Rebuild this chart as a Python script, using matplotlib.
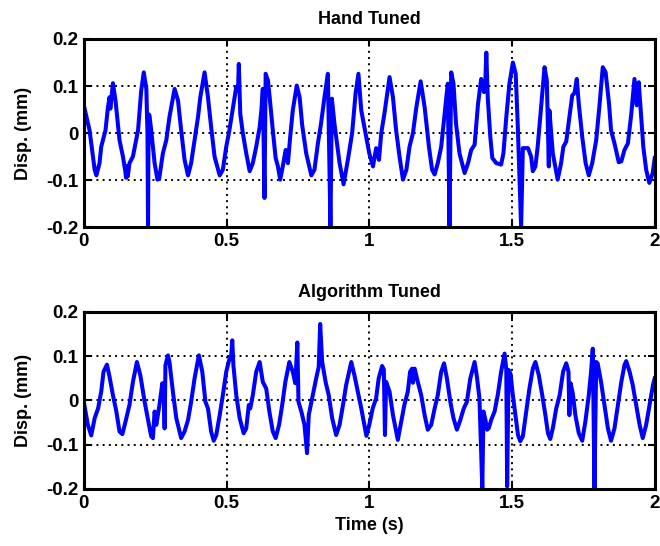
import matplotlib
matplotlib.use("Agg")
import matplotlib.pyplot as plt

# ---------------- data ----------------
t_hand = [0.000, 0.020, 0.038, 0.044, 0.055, 0.061, 0.076, 0.084, 0.090, 0.093,
          0.102, 0.111, 0.125, 0.137, 0.145, 0.148, 0.151, 0.154, 0.160, 0.172,
          0.190, 0.201, 0.210, 0.219, 0.223, 0.225, 0.227, 0.230, 0.236, 0.248,
          0.258, 0.264, 0.277, 0.289, 0.300, 0.318, 0.330, 0.341, 0.353, 0.365,
          0.376, 0.388, 0.400, 0.408, 0.423, 0.435, 0.446, 0.458, 0.476, 0.487,
          0.499, 0.510, 0.528, 0.534, 0.540, 0.543, 0.548, 0.557, 0.569, 0.581,
          0.592, 0.604, 0.616, 0.622, 0.627, 0.633, 0.637, 0.645, 0.651, 0.663,
          0.672, 0.680, 0.688, 0.697, 0.707, 0.715, 0.723, 0.732, 0.746, 0.756,
          0.765, 0.779, 0.797, 0.808, 0.820, 0.831, 0.843, 0.855, 0.864, 0.869,
          0.878, 0.896, 0.910, 0.925, 0.940, 0.952, 0.962, 0.972, 0.989, 1.000,
          1.013, 1.024, 1.034, 1.042, 1.053, 1.071, 1.083, 1.094, 1.106, 1.118,
          1.130, 1.141, 1.153, 1.165, 1.180, 1.194, 1.209, 1.220, 1.229, 1.240,
          1.252, 1.264, 1.275, 1.281, 1.287, 1.295, 1.304, 1.316, 1.334, 1.346,
          1.357, 1.369, 1.381, 1.392, 1.402, 1.406, 1.410, 1.415, 1.424, 1.431,
          1.445, 1.462, 1.470, 1.480, 1.491, 1.503, 1.513, 1.520, 1.532, 1.538,
          1.556, 1.567, 1.573, 1.582, 1.590, 1.602, 1.614, 1.622, 1.629, 1.631,
          1.643, 1.660, 1.672, 1.680, 1.690, 1.701, 1.711, 1.719, 1.727, 1.734,
          1.746, 1.758, 1.769, 1.781, 1.795, 1.807, 1.818, 1.828, 1.840, 1.847,
          1.859, 1.874, 1.883, 1.894, 1.906, 1.918, 1.929, 1.937, 1.944, 1.952,
          1.960, 1.970, 1.981, 1.993, 2.000]
y_hand = [0.059, 0.006, -0.078, -0.090, -0.064, -0.029, 0.006, 0.052, 0.076, 0.052,
          0.106, 0.069, -0.015, -0.050, -0.080, -0.095, -0.070, -0.092, -0.064, -0.050,
          0.006, 0.090, 0.129, 0.094, 0.000, -0.200, 0.040, 0.038, 0.006, -0.064,
          -0.099, -0.097, -0.043, -0.015, 0.034, 0.094, 0.069, 0.006, -0.057, -0.090,
          -0.064, -0.015, 0.034, 0.076, 0.129, 0.076, 0.013, -0.050, -0.090, -0.078,
          -0.029, 0.006, 0.076, 0.098, 0.090, 0.147, 0.041, 0.000, -0.043, -0.081,
          -0.064, -0.029, 0.013, 0.048, 0.094, -0.138, 0.126, 0.112, 0.076, 0.000,
          -0.053, -0.071, -0.099, -0.071, -0.036, -0.064, -0.008, 0.048, 0.101, 0.076,
          0.017, -0.043, -0.090, -0.078, -0.022, 0.020, 0.076, 0.126, -0.200, 0.073,
          0.020, -0.064, -0.109, -0.057, 0.000, 0.084, 0.126, 0.048, -0.008, -0.043,
          -0.071, -0.032, -0.057, 0.000, 0.041, 0.119, 0.076, 0.006, -0.050, -0.099,
          -0.078, -0.029, 0.000, 0.055, 0.110, 0.055, -0.029, -0.078, -0.088, -0.064,
          -0.029, 0.041, 0.105, -0.200, 0.129, 0.105, 0.020, -0.043, -0.085, -0.064,
          -0.036, -0.025, 0.062, 0.115, 0.087, 0.100, 0.171, 0.076, -0.008, -0.053,
          -0.064, -0.067, -0.043, 0.034, 0.105, 0.150, 0.126, 0.020, -0.200, -0.032,
          -0.032, -0.050, -0.081, -0.071, -0.029, 0.055, 0.140, 0.112, -0.071, 0.048,
          -0.043, -0.099, -0.064, -0.029, -0.018, 0.034, 0.080, 0.085, 0.115, 0.062,
          -0.008, -0.064, -0.090, -0.064, -0.015, 0.062, 0.140, 0.129, 0.062, 0.006,
          -0.022, -0.062, -0.060, -0.036, -0.022, 0.041, 0.115, 0.059, 0.108, 0.041,
          -0.029, -0.078, -0.106, -0.085, -0.053]

t_algo = [0.000, 0.014, 0.026, 0.038, 0.050, 0.061, 0.069, 0.081, 0.090, 0.102,
          0.114, 0.125, 0.135, 0.146, 0.160, 0.172, 0.186, 0.198, 0.213, 0.224,
          0.236, 0.242, 0.248, 0.254, 0.265, 0.275, 0.280, 0.283, 0.286, 0.295,
          0.300, 0.312, 0.324, 0.341, 0.353, 0.365, 0.376, 0.388, 0.403, 0.415,
          0.426, 0.435, 0.446, 0.455, 0.464, 0.476, 0.487, 0.499, 0.509, 0.516,
          0.520, 0.524, 0.534, 0.546, 0.560, 0.569, 0.578, 0.583, 0.592, 0.604,
          0.616, 0.627, 0.639, 0.650, 0.662, 0.672, 0.684, 0.695, 0.706, 0.720,
          0.732, 0.741, 0.748, 0.752, 0.762, 0.773, 0.782, 0.788, 0.800, 0.814,
          0.823, 0.828, 0.835, 0.847, 0.858, 0.870, 0.884, 0.896, 0.908, 0.919,
          0.937, 0.948, 0.960, 0.972, 0.990, 1.000, 1.012, 1.024, 1.033, 1.045,
          1.051, 1.055, 1.059, 1.071, 1.083, 1.100, 1.112, 1.123, 1.135, 1.143,
          1.150, 1.153, 1.159, 1.170, 1.182, 1.194, 1.205, 1.217, 1.229, 1.240,
          1.252, 1.262, 1.272, 1.284, 1.295, 1.307, 1.319, 1.331, 1.342, 1.354,
          1.369, 1.377, 1.386, 1.396, 1.400, 1.407, 1.413, 1.419, 1.427, 1.439,
          1.450, 1.462, 1.474, 1.480, 1.483, 1.488, 1.495, 1.503, 1.512, 1.521,
          1.529, 1.538, 1.550, 1.561, 1.573, 1.582, 1.594, 1.606, 1.617, 1.626,
          1.634, 1.643, 1.655, 1.667, 1.679, 1.690, 1.698, 1.701, 1.705, 1.713,
          1.722, 1.734, 1.746, 1.757, 1.769, 1.777, 1.783, 1.789, 1.795, 1.800,
          1.812, 1.824, 1.836, 1.847, 1.859, 1.871, 1.883, 1.894, 1.900, 1.912,
          1.923, 1.935, 1.947, 1.958, 1.970, 1.982, 1.994, 2.000]
y_algo = [-0.003, -0.055, -0.079, -0.040, -0.018, 0.020, 0.065, 0.081, 0.054, 0.012,
          -0.025, -0.070, -0.076, -0.048, -0.010, 0.042, 0.087, 0.057, -0.003, -0.040,
          -0.081, -0.085, -0.025, -0.055, -0.010, 0.039, 0.020, -0.063, 0.080, 0.102,
          0.087, 0.020, -0.040, -0.085, -0.070, -0.044, -0.003, 0.050, 0.102, 0.065,
          -0.003, -0.018, -0.070, -0.091, -0.078, -0.033, 0.012, 0.065, 0.091, 0.100,
          0.136, 0.080, 0.012, -0.040, -0.074, -0.063, -0.010, -0.018, 0.012, 0.065,
          0.087, 0.042, 0.027, -0.025, -0.070, -0.085, -0.055, -0.010, 0.042, 0.087,
          0.065, 0.039, 0.131, -0.003, -0.025, -0.055, -0.119, -0.033, 0.005, 0.050,
          0.076, 0.173, 0.087, 0.042, 0.012, -0.040, -0.078, -0.055, -0.010, 0.035,
          0.087, 0.057, 0.020, -0.018, -0.080, -0.055, -0.018, 0.005, 0.050, 0.078,
          0.070, -0.078, 0.042, 0.020, -0.033, -0.089, -0.048, -0.010, 0.020, 0.065,
          0.072, 0.040, 0.072, 0.042, 0.012, -0.033, -0.066, -0.055, -0.018, 0.012,
          0.065, 0.084, 0.050, -0.003, -0.040, -0.066, -0.044, -0.018, -0.003, 0.050,
          0.087, 0.054, 0.005, -0.200, -0.025, -0.044, -0.066, -0.062, -0.044, -0.025,
          0.012, 0.065, 0.106, 0.070, -0.194, 0.069, 0.060, 0.012, -0.033, -0.078,
          -0.092, -0.081, -0.025, 0.027, 0.072, 0.087, 0.057, 0.012, -0.033, -0.074,
          -0.087, -0.063, -0.018, 0.012, 0.065, 0.084, 0.065, -0.033, 0.039, 0.016,
          -0.033, -0.074, -0.091, -0.048, 0.012, 0.065, 0.117, -0.200, 0.087, 0.084,
          0.042, -0.010, -0.063, -0.091, -0.063, -0.010, 0.042, 0.080, 0.089, 0.065,
          0.035, -0.010, -0.055, -0.085, -0.055, -0.010, 0.035, 0.050]

x_ticks = [0, 0.5, 1, 1.5, 2]
x_ticklabels = ["0", "0.5", "1", "1.5", "2"]
y_ticks = [-0.2, -0.1, 0, 0.1, 0.2]
y_ticklabels = ["-0.2", "-0.1", "0", "0.1", "0.2"]
titles = ["Hand Tuned", "Algorithm Tuned"]
ylabel = "Disp. (mm)"
xlabel = "Time (s)"

# ---------------- styling ----------------
plt.rcParams['font.family'] = ['Liberation Sans', 'DejaVu Sans']
plt.rcParams['font.weight'] = 'bold'
FS = 13
TFS = 13.5

fig = plt.figure(figsize=(6.6, 5.46), dpi=100)
ax1 = fig.add_axes([0.127, 0.584, 0.865, 0.3446])
ax2 = fig.add_axes([0.127, 0.1044, 0.865, 0.3242])

for ax, t, y, title in [(ax1, t_hand, y_hand, titles[0]),
                        (ax2, t_algo, y_algo, titles[1])]:
    ax.plot(t, y, color=(0, 0, 1), lw=2.9, solid_joinstyle='round')
    ax.set_xlim(0, 2)
    ax.set_ylim(-0.2, 0.2)
    ax.set_xticks(x_ticks)
    ax.set_xticklabels(x_ticklabels, fontsize=TFS, fontweight='bold')
    ax.set_yticks(y_ticks)
    ax.set_yticklabels(y_ticklabels, fontsize=TFS, fontweight='bold')
    ax.grid(True, color='black', linestyle=(0, (1, 2.2)), linewidth=1.4)
    ax.tick_params(direction='in', length=5, width=1.5, top=True, right=True, pad=4)
    for sp in ax.spines.values():
        sp.set_linewidth(2.2)
    ax.set_title(title, fontsize=FS, fontweight='bold', pad=11)
    ax.set_ylabel(ylabel, fontsize=FS, fontweight='bold', labelpad=10)

ax2.set_xlabel(xlabel, fontsize=FS, fontweight='bold', labelpad=4)

fig.savefig("out.png", dpi=100)
